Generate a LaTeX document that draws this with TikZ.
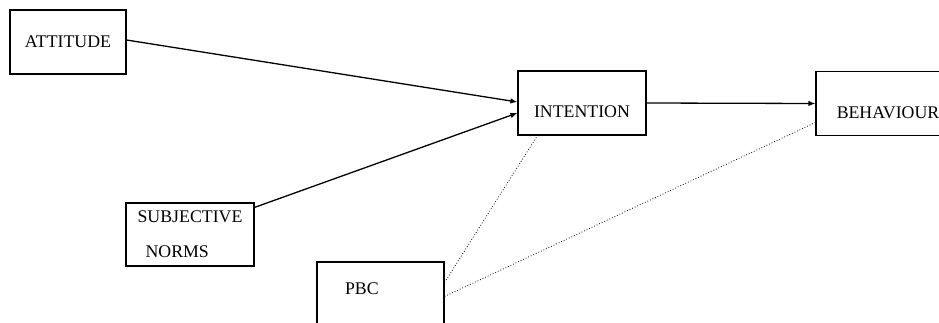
\documentclass[tikz,border=0pt]{standalone}
\usepackage{fontspec}
\setmainfont{Liberation Serif}
\usetikzlibrary{arrows.meta,positioning,calc}

\begin{document}
\begin{tikzpicture}[x=1pt, y=-1pt,
        box/.style={draw, line width=1.2pt, rectangle, inner sep=0pt,
                    font=\fontsize{17.8}{20}\selectfont},
        path/.style={line width=1.3pt, -{Latex[length=7pt,width=5.5pt]}},
        link/.style={line width=0.8pt, dotted}]
        % Frame of the picture
        \useasboundingbox (0,0) rectangle (939,323);
        \clip (0,0) rectangle (939,323);
        % Boxes
        \node [box, minimum width=116pt, minimum height=64pt] (attitude) at (68,42) {ATTITUDE};
        \node [box, minimum width=128pt, minimum height=64pt,
               text height=28.6pt, text depth=0pt] (intention) at (582,103) {INTENTION};
        \node [box, minimum width=144pt, minimum height=64pt,
               text height=29.4pt, text depth=0pt] (behaviour) at (888,103.5) {BEHAVIOUR};
        \node [box, minimum width=128pt, minimum height=63pt, align=left]
            (subjective) at (190,234.5) {SUBJECTIVE\\[15pt]\hspace*{8pt}NORMS};
        \node [box, minimum height=64pt, inner xsep=28pt, text width=71pt, align=left,
               text height=11.8pt, text depth=11pt] (pbc) at (380.5,294) {PBC};
        % Solid arrows into intention and behaviour
        \draw [path] ([yshift=2pt]attitude.east) -- ([yshift=1pt]intention.west);
        \draw [path] ([yshift=-5pt]subjective.north east) -- ([yshift=-10pt]intention.west);
        \draw [path] (intention.east) -- (behaviour.west);
        % Dotted links from pbc
        \draw [link] ([yshift=-21pt]pbc.north east) -- ([xshift=20pt]intention.south west);
        \draw [link] ([yshift=-35pt]pbc.north east) -- ([yshift=-19pt]behaviour.west);
\end{tikzpicture}
\end{document}
